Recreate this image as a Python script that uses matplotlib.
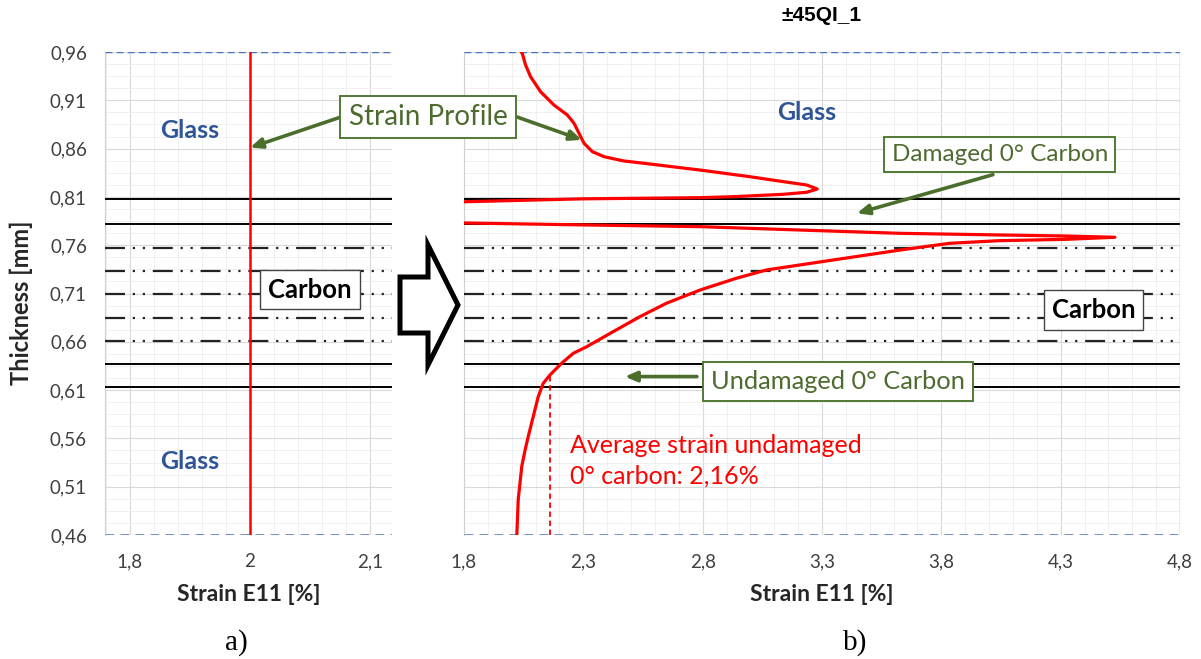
import matplotlib
matplotlib.use("Agg")
import matplotlib.pyplot as plt
import numpy as np
from matplotlib.patches import Polygon
from matplotlib.ticker import FixedLocator, MultipleLocator

# ---- data ----
thickness_ticks = [0.46, 0.51, 0.56, 0.61, 0.66, 0.71, 0.76, 0.81, 0.86, 0.91, 0.96]
thickness_range = (0.46, 0.96)

solid_boundaries = [0.808, 0.782, 0.637, 0.613]
dashed_boundaries = [0.757, 0.733, 0.709, 0.685, 0.661]

# panel a) : uniform strain assumption
uniform_strain = 2.0
left_xticks = [1.88, 2.0, 2.12]
left_xticklabels = ["1,8", "2", "2,1"]

# panel b) : measured strain profile (read off the figure)
right_xticks = [1.8, 2.3, 2.8, 3.3, 3.8, 4.3, 4.8]
right_xticklabels = ["1,8", "2,3", "2,8", "3,3", "3,8", "4,3", "4,8"]
profile_strain = [2.040, 2.044, 2.058, 2.079, 2.121, 2.177, 2.233, 2.261, 2.282, 2.303,
                  2.338, 2.387, 2.470, 2.554, 2.789, 2.998, 3.138, 3.236, 3.280, 3.236,
                  3.138, 2.928, 2.789, 2.299, 1.804, 1.200, 1.200, 1.804, 2.300, 2.789,
                  3.208, 3.627, 4.045, 4.325, 4.527, 4.325, 4.045, 3.836, 3.627, 3.347,
                  3.068, 2.940, 2.789, 2.649, 2.537, 2.425, 2.314, 2.258, 2.209, 2.160,
                  2.132, 2.111, 2.090, 2.069, 2.056, 2.042, 2.027, 2.021]
profile_thickness = [0.9600, 0.9587, 0.9465, 0.9344, 0.9188, 0.9051, 0.8948, 0.8862, 0.8758, 0.8655,
                     0.8568, 0.8516, 0.8472, 0.8448, 0.8378, 0.8309, 0.8258, 0.8223, 0.8182, 0.8148,
                     0.8127, 0.8102, 0.8092, 0.8080, 0.8050, 0.8010, 0.7870, 0.7830, 0.7810, 0.7792,
                     0.7757, 0.7723, 0.7706, 0.7695, 0.7682, 0.7661, 0.7647, 0.7620, 0.7550, 0.7447,
                     0.7344, 0.7257, 0.7136, 0.7000, 0.6860, 0.6705, 0.6549, 0.6481, 0.6378, 0.6256,
                     0.6170, 0.6032, 0.5825, 0.5618, 0.5480, 0.5310, 0.4960, 0.4580]
avg_undamaged_strain = 2.16
avg_line_top = 0.6256

# ---- style ----
W, H = 1201, 659
SANS = ["Lato", "DejaVu Sans"]
GREEN_TXT = "#4E6B2F"
GREEN_EDGE = "#507A35"
GREEN_ARROW = "#4A6E2C"
BLUE_TXT = "#2F5597"
EXCEL_BLUE = "#4472C4"
TICK_COL = "#404040"

plt.rcParams["font.family"] = SANS


def fig_xy(px, py):
    return px / W, 1 - py / H


fig = plt.figure(figsize=(W / 100, H / 100), dpi=100)
ax_a = fig.add_axes([105 / W, 1 - 535 / H, 287 / W, 483 / H])
ax_b = fig.add_axes([464 / W, 1 - 535 / H, 716 / W, 483 / H])


def style_axes(ax, xlim, xticks, xticklabels, xminor):
    ax.set_xlim(*xlim)
    ax.set_ylim(*thickness_range)
    ax.set_xticks(xticks)
    ax.set_xticklabels(xticklabels)
    ax.xaxis.set_minor_locator(xminor)
    ax.set_yticks(thickness_ticks)
    ax.set_yticklabels([f"{t:.2f}".replace(".", ",") for t in thickness_ticks])
    ax.yaxis.set_minor_locator(FixedLocator(np.arange(0.46, 0.9601, 0.0125)))
    ax.grid(which="major", color="#D9D9D9", lw=0.8, zorder=0)
    ax.grid(which="minor", color="#EEEEEE", lw=0.6, zorder=0)
    ax.set_axisbelow(True)
    ax.tick_params(which="both", length=0, labelsize=13.5, colors=TICK_COL, pad=13)
    for s in ("top", "right", "bottom"):
        ax.spines[s].set_visible(False)
    ax.spines["left"].set_color("#D0D0D0")
    for b in solid_boundaries:
        ax.axhline(b, color="black", lw=1.4, zorder=3)
    for b in dashed_boundaries:
        ax.axhline(b, color="#222222", lw=1.6, dashes=(9, 3.5, 1, 3.5, 1, 3.5), zorder=3)
    ax.axhline(thickness_range[1], color=EXCEL_BLUE, lw=1.0, dashes=(5, 3), zorder=3)
    ax.axhline(thickness_range[0], color=EXCEL_BLUE, lw=1.8, dashes=(3.5, 2.5), zorder=3)
    ax.set_xlabel("Strain E11 [%]", fontsize=16.5, fontweight="bold", color="#262626", labelpad=10)


style_axes(ax_a, (1.855, 2.142), left_xticks, left_xticklabels,
           FixedLocator(np.arange(1.856, 2.142, 0.024)))
style_axes(ax_b, (1.8, 4.8), right_xticks, right_xticklabels, MultipleLocator(0.1))
ax_b.tick_params(axis="y", labelleft=False)
ax_b.axvline(4.8, color="#9DB3E0", lw=1.0, zorder=3)
ax_a.set_ylabel("Thickness [mm]", fontsize=17, fontweight="bold", color="#262626")
ax_a.yaxis.set_label_coords(-0.25, 0.48)
ax_b.set_title("±45QI_1", fontsize=15, fontweight="bold", family="Liberation Sans", pad=22)

# panel a
ax_a.plot([uniform_strain, uniform_strain], thickness_range, color="red", lw=1.8, zorder=4)
ax_a.text(1.94, 0.879, "Glass", color=BLUE_TXT, fontsize=18, fontweight="bold", ha="center", va="center")
ax_a.text(1.94, 0.536, "Glass", color=BLUE_TXT, fontsize=18, fontweight="bold", ha="center", va="center")
ax_a.text(2.06, 0.714, "Carbon", color="black", fontsize=18.5, fontweight="bold", ha="center", va="center",
          zorder=5, bbox=dict(boxstyle="square,pad=0.3", fc="white", ec="#444444", lw=1.0))

# panel b
ax_b.plot(profile_strain, profile_thickness, color="red", lw=2.3, zorder=4, solid_joinstyle="round")
ax_b.plot([avg_undamaged_strain, avg_undamaged_strain], [thickness_range[0], avg_line_top],
          color="red", lw=1.3, dashes=(3, 2), zorder=4)
ax_b.text(3.237, 0.897, "Glass", color=BLUE_TXT, fontsize=18, fontweight="bold", ha="center", va="center")
ax_b.text(4.439, 0.693, "Carbon", color="black", fontsize=18.5, fontweight="bold", ha="center", va="center",
          zorder=5, bbox=dict(boxstyle="square,pad=0.3", fc="white", ec="#444444", lw=1.0))
ax_b.text(2.244, 0.5366, "Average strain undamaged\n0° carbon: 2,16%", color="red", fontsize=18,
          ha="left", va="center", linespacing=1.4)

green_box = dict(boxstyle="square,pad=0.3", fc="white", ec=GREEN_EDGE, lw=1.4)
arrow_kw = dict(arrowstyle="-|>,head_length=0.7,head_width=0.3", color=GREEN_ARROW, lw=2.6,
                shrinkA=0, shrinkB=0)

# Strain Profile box with two arrows
ax_b.text(*fig_xy(428, 117), "Strain Profile", transform=fig.transFigure, color=GREEN_TXT,
          fontsize=20, ha="center", va="center", zorder=6, bbox=green_box)
ax_a.annotate("", xy=(uniform_strain, 0.861), xycoords="data", xytext=fig_xy(341, 117),
              textcoords="figure fraction", arrowprops=arrow_kw, zorder=5, annotation_clip=False)
ax_b.annotate("", xy=(2.294, 0.869), xycoords="data", xytext=fig_xy(517, 117),
              textcoords="figure fraction", arrowprops=arrow_kw, zorder=5, annotation_clip=False)

ax_b.text(4.045, 0.854, "Damaged 0° Carbon", color=GREEN_TXT, fontsize=17.5, ha="center", va="center",
          zorder=6, bbox=green_box)
ax_b.annotate("", xy=(3.446, 0.793), xytext=(4.016, 0.833), arrowprops=arrow_kw, zorder=5)

ax_b.text(3.367, 0.619, "Undamaged 0° Carbon", color=GREEN_TXT, fontsize=18.3, ha="center", va="center",
          zorder=6, bbox=green_box)
ax_b.annotate("", xy=(2.474, 0.624), xytext=(2.776, 0.624), arrowprops=arrow_kw, zorder=5)

# hollow block arrow between the panels
block = [(400, 277), (428, 277), (428, 245), (458, 305), (428, 365), (428, 333), (400, 333)]
fig.add_artist(Polygon([fig_xy(x, y) for x, y in block], closed=True, transform=fig.transFigure,
                       fc="white", ec="black", lw=3.6, joinstyle="miter"))

# sub-figure labels
fig.text(*fig_xy(236, 643), "a)", fontsize=21, family="Liberation Serif", ha="center", va="center")
fig.text(*fig_xy(855, 643), "b)", fontsize=21, family="Liberation Serif", ha="center", va="center")

fig.savefig("out.png", dpi=100)
